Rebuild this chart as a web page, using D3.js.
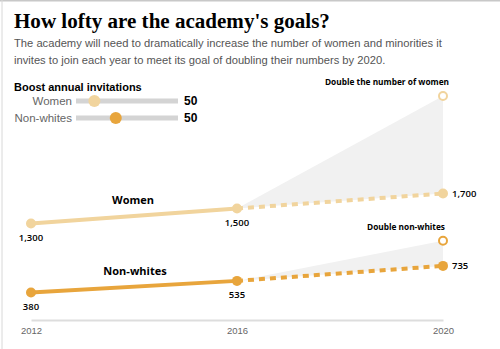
<!DOCTYPE html>
<html>
<head>
<meta charset="utf-8">
<script src="https://d3js.org/d3.v7.min.js"></script>
<style>
  body { margin: 0; background: #fff; }
  svg text { font-family: "Open Sans", Arial, sans-serif; }
</style>
</head>
<body>
<div id="my_dataviz"></div>
<script>
    // data
    var years = [2012, 2016, 2020];
    var groups = ["Women", "Non-whites"];
    var women = [1300, 1500, 1700];
    var nonWhites = [380, 535, 735];
    var doubleTargets = [3000, 1070];
    var targetLabels = ["Double the number of women", "Double non-whites"];
    var sliderValues = [50, 50];
    var sliderPos = [0.18, 0.39];   // knob position along the track
    var colors = ["#f1d49d", "#e8a53c"];

    var width = 500, height = 349;

    var svg = d3.select("#my_dataviz")
        .append("svg")
        .attr("width", width)
        .attr("height", height);

    // light frame
    svg.append("line").attr("x1", 0).attr("x2", width).attr("y1", 0.5).attr("y2", 0.5)
        .attr("stroke", "#c8c8c8").attr("stroke-width", 2);
    svg.append("line").attr("x1", 2).attr("x2", 2).attr("y1", 0).attr("y2", height)
        .attr("stroke", "#d8d8d8").attr("stroke-width", 1);

    // header
    var title = svg.append("text").attr("x", 14).attr("y", 28)
        .style("font-family", "'Liberation Serif', 'DejaVu Serif', serif")
        .style("font-weight", "bold").style("font-size", "22px")
        .text("How lofty are the academy's goals?");
    // fit title to the width seen in the picture
    var tw = title.node().getComputedTextLength();
    title.style("font-size", (22 * 316 / tw).toFixed(2) + "px");

    var sub = ["The academy will need to dramatically increase the number of women and minorities it",
               "invites to join each year to meet its goal of doubling their numbers by 2020."];
    sub.forEach(function(s, i) {
        svg.append("text").attr("x", 14).attr("y", 47 + i * 16.5)
            .style("font-size", "11.2px").style("fill", "#555")
            .style("font-family", "'Liberation Sans', Arial, sans-serif")
            .text(s);
    });

    // slider block
    svg.append("text").attr("x", 14).attr("y", 91)
        .style("font-size", "11px").style("font-weight", "bold")
        .style("font-family", "'Liberation Sans', Arial, sans-serif")
        .text("Boost annual invitations");

    var track = d3.scaleLinear().domain([0, 1]).range([76, 178]);
    groups.forEach(function(g, i) {
        var cy = 101 + i * 17;
        svg.append("text").attr("x", 72).attr("y", cy + 4)
            .attr("text-anchor", "end")
            .style("font-size", "11.5px").style("fill", "#666")
            .style("font-family", "'Liberation Sans', Arial, sans-serif")
            .text(g);
        svg.append("line").attr("x1", track(0)).attr("x2", track(1))
            .attr("y1", cy).attr("y2", cy)
            .attr("stroke", "#d4d4d4").attr("stroke-width", 5);
        svg.append("circle").attr("cx", track(sliderPos[i])).attr("cy", cy).attr("r", 6)
            .attr("fill", colors[i]);
        svg.append("text").attr("x", 184).attr("y", cy + 4)
            .style("font-size", "12px").style("font-weight", "bold")
            .style("font-family", "'Liberation Sans', Arial, sans-serif")
            .text(sliderValues[i]);
    });

    // scales
    var x = d3.scaleLinear().domain([2012, 2020]).range([31, 443]);
    var y = d3.scaleLinear().domain([0, 3000]).range([321, 96]);

    // axis
    var axis = svg.append("g").attr("transform", "translate(0,320)")
        .call(d3.axisBottom(x).tickValues(years).tickFormat(d3.format("d")).tickSize(0).tickPadding(7));
    axis.select(".domain").attr("stroke", "#ddd").attr("stroke-width", 2);
    axis.selectAll("text").style("fill", "#666").style("font-size", "9.5px")
        .style("font-family", "'Liberation Sans', Arial, sans-serif");

    var series = [women, nonWhites];
    var fmt = d3.format(",");

    // shaded gap to the doubling goal
    series.forEach(function(vals, i) {
        var pts = [[x(years[1]), y(vals[1])], [x(years[2]), y(doubleTargets[i])], [x(years[2]), y(vals[2])]];
        svg.append("path").attr("d", d3.line()(pts) + "Z").attr("fill", "#f1f1f1");
    });

    series.forEach(function(vals, i) {
        var col = colors[i];
        var pts = years.map(function(yr, k) { return [x(yr), y(vals[k])]; });
        svg.append("path").attr("d", d3.line()(pts.slice(0, 2)))
            .attr("stroke", col).attr("stroke-width", 4).attr("fill", "none");
        svg.append("path").attr("d", d3.line()(pts.slice(1, 3)))
            .attr("stroke", col).attr("stroke-width", 4).attr("fill", "none")
            .attr("stroke-dasharray", "6,5");
        svg.selectAll(null).data(pts).enter().append("circle")
            .attr("cx", function(d) { return d[0]; })
            .attr("cy", function(d) { return d[1]; })
            .attr("r", 5).attr("fill", col);
        // goal ring
        svg.append("circle").attr("cx", x(2020)).attr("cy", y(doubleTargets[i]))
            .attr("r", 4).attr("fill", "#fff").attr("stroke", col).attr("stroke-width", 2);
        svg.append("text").attr("x", x(2020) - (i === 0 ? 56 : 37)).attr("y", y(doubleTargets[i]) - 11)
            .attr("text-anchor", "middle")
            .style("font-size", "8.3px").style("font-weight", "bold")
            .text(targetLabels[i]);

        // value labels
        svg.append("text").attr("x", pts[0][0]).attr("y", pts[0][1] + 17)
            .attr("text-anchor", "middle").style("font-size", "9.5px").style("font-weight", "600")
            .text(fmt(vals[0]));
        svg.append("text").attr("x", pts[1][0]).attr("y", pts[1][1] + 17)
            .attr("text-anchor", "middle").style("font-size", "9.5px").style("font-weight", "600")
            .text(fmt(vals[1]));
        svg.append("text").attr("x", pts[2][0] + 9).attr("y", pts[2][1] + 3)
            .style("font-size", "9.5px").style("font-weight", "600")
            .text(fmt(vals[2]));

        // series name
        svg.append("text").attr("x", x(2014) - (i === 0 ? 1 : -1)).attr("y", (pts[0][1] + pts[1][1]) / 2 - 12)
            .attr("text-anchor", "middle").style("font-size", "11px").style("font-weight", "bold")
            .text(groups[i]);
    });
</script>
</body>
</html>
